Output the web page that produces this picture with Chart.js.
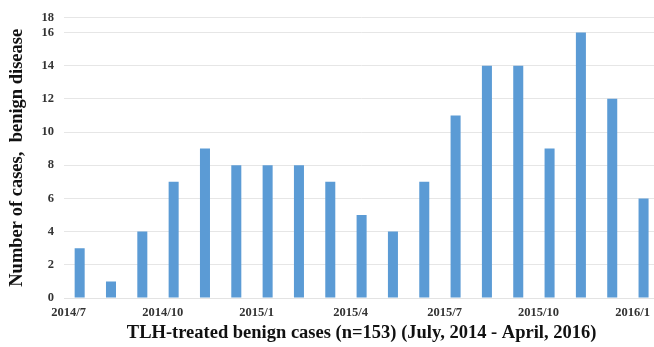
<!DOCTYPE html>
<html>
<head>
<meta charset="utf-8">
<script src="https://cdn.jsdelivr.net/npm/chart.js@4"></script>
<style>
html,body{margin:0;padding:0;background:#fff;overflow:hidden;}
#c{position:absolute;left:0;top:0;}
</style>
</head>
<body>
<canvas id="c" width="668" height="347" style="width:668px;height:347px;"></canvas>
<script>
const months = ['2014/7','2014/8','2014/9','2014/10','2014/11','2014/12','2015/1','2015/2','2015/3','2015/4','2015/5','2015/6','2015/7','2015/8','2015/9','2015/10','2015/11','2015/12','2016/1'];
const cases = [3,1,4,7,9,8,8,8,7,5,4,7,11,14,14,9,16,12,6];
const yTickValues = [0,2,4,6,8,10,12,14,16,16.9];
const yTickLabels = ['0','2','4','6','8','10','12','14','16','18'];
const xTitle = 'TLH-treated benign cases (n=153) (July, 2014 - April, 2016)';
const yTitle = 'Number of cases,  benign disease';

const serif = '"Liberation Serif","Times New Roman",serif';
new Chart(document.getElementById('c'), {
  type: 'bar',
  data: {
    labels: months,
    datasets: [{
      data: cases,
      backgroundColor: '#5B9BD5',
      borderWidth: 0,
      categoryPercentage: 1,
      barPercentage: 0.32
    }]
  },
  options: {
    responsive: false,
    animation: false,
    layout: {padding: {top: 17, right: 3, left: 0, bottom: 0}},
    plugins: {legend: {display: false}, tooltip: {enabled: false}},
    scales: {
      x: {
        grid: {display: false, drawTicks: false},
        border: {display: true, color: '#e3e3e3'},
        ticks: {
          autoSkip: false, maxRotation: 0, padding: 7, labelOffset: -11,
          color: '#333',
          font: {family: serif, size: 12.5, weight: 'bold'},
          callback: function(v, i){ return i % 3 === 0 ? months[i] : ''; }
        },
        title: {display: true, text: xTitle, color: '#111',
          font: {family: serif, size: 18.5, weight: 'bold'},
          padding: {top: 0, bottom: 3}},
        afterFit: function(s){ s.height = 49; }
      },
      y: {
        min: 0, max: 16.9,
        grid: {color: '#e6e6e6', drawTicks: false},
        border: {display: false},
        afterBuildTicks: function(s){ s.ticks = yTickValues.map(v => ({value: v})); },
        ticks: {
          padding: 10, color: '#333',
          font: {family: serif, size: 12.5, weight: 'bold'},
          callback: function(v, i){ return yTickLabels[i]; }
        },
        title: {display: true, text: yTitle, color: '#111',
          font: {family: serif, size: 18.5, weight: 'bold'},
          padding: {top: 6, bottom: 0}},
        afterFit: function(s){ s.width = 64; }
      }
    }
  }
});
</script>
</body>
</html>
